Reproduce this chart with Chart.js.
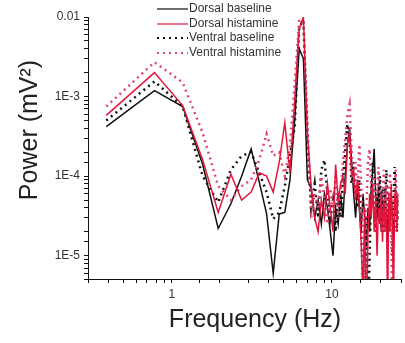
<!DOCTYPE html>
<html>
<head>
<meta charset="utf-8">
<script src="https://cdn.jsdelivr.net/npm/chart.js@4/dist/chart.umd.min.js"></script>
<style>
  html, body { margin: 0; padding: 0; background: #fff; }
  #wrap { width: 405px; height: 343px; }
</style>
</head>
<body>
<div id="wrap"><canvas id="psdChart" width="405" height="343"></canvas></div>
<script>
// Frequency bins (Hz)
const freqs = [0.39, 0.78, 1.17, 1.56, 1.95, 2.34, 2.73, 3.13, 3.52, 3.91, 4.30, 4.69, 5.08, 5.47, 5.86,
  6.25, 6.64, 7.03, 7.42, 7.81, 8.20, 8.59, 8.98, 9.38, 9.77, 10.16, 10.55, 10.94, 11.33, 11.72,
  12.11, 12.50, 12.89, 13.28, 13.67, 14.06, 14.45, 14.84, 15.23, 15.63, 16.02, 16.41, 16.80, 17.19,
  17.58, 17.97, 18.36, 18.75, 19.14, 19.53, 19.92, 20.31, 20.70, 21.09, 21.48, 21.88, 22.27, 22.66,
  23.05, 23.44, 23.83, 24.22, 24.61, 25.00, 25.39, 25.78];

// Power (mV^2)
const dorsalBaseline = [4.2e-4, 1.19e-3, 7.5e-4, 1.4e-4, 2.2e-5, 4.5e-5, 1e-4, 2.2e-4, 8.4e-5, 3.35e-5, 6e-6,
  3.35e-5, 3.5e-5, 9e-5, 5.2e-4, 4e-3, 3e-3, 9e-5,
  7e-5, 3e-5, 5e-5, 2.5e-5, 6e-5, 4e-5, 2e-5, 1e-5, 4e-5, 2.5e-5, 6e-5, 3e-5, 1e-4, 2.5e-4, 4e-4, 1.5e-4,
  6e-5, 3e-5, 8e-5, 4e-5, 2e-5, 6e-5, 3e-5, 1.2e-5, 4e-5, 2e-5, 7e-5, 1.2e-4, 2.2e-4, 6e-5, 3e-5, 8e-5,
  4e-5, 2e-5, 5e-5, 3e-5, 7e-5, 3.5e-5, 1.5e-5, 5e-5, 2.5e-5, 6e-5, 3e-5, 1.5e-5, 4e-5, 6e-5, 3e-5, 5e-5];
const dorsalHistamine = [5.8e-4, 2.0e-3, 7.7e-4, 1.6e-4, 3.5e-5, 1.06e-4, 5e-5, 6.3e-5, 1.1e-4, 1e-4, 6.3e-5,
  1.5e-4, 4.7e-4, 1.1e-4, 9e-4, 7e-3, 1e-2, 3.5e-4,
  7.5e-5, 3e-5, 2e-5, 5e-5, 3e-5, 8e-5, 4e-5, 2e-5, 1.4e-4, 5e-5, 8e-5, 1e-4, 6e-5, 2.5e-4, 3.5e-4, 1e-4,
  1.2e-4, 5e-5, 9e-5, 4e-5, 1.5e-5, 3e-6, 4e-5, 1e-6, 2e-5, 6e-5, 3e-5, 8e-5, 2e-5, 5e-5, 1e-5, 4e-5,
  2.5e-5, 6e-5, 1.5e-5, 5e-5, 2e-5, 4e-5, 2e-6, 6e-5, 2e-5, 8e-5, 3e-5, 2e-6, 5e-5, 7e-5, 2e-5, 6e-5];
const ventralBaseline = [5e-4, 1.55e-3, 7.5e-4, 1e-4, 4.7e-5, 1.2e-4, 1.8e-4, 2e-4, 1.1e-4, 6.3e-5, 2.9e-5,
  3.5e-5, 7.5e-5, 1.8e-4, 4.2e-4, 7.5e-3, 9e-3, 2.9e-4,
  4e-5, 8e-5, 3e-5, 1.2e-4, 1.6e-4, 6e-5, 3e-5, 5e-5, 2e-5, 6e-5, 3e-5, 9e-5, 2e-4, 4.5e-4, 3e-4, 8e-5,
  1.5e-4, 6e-5, 4e-5, 9e-5, 2e-5, 5e-6, 2e-6, 3e-5, 1e-6, 1e-5, 6e-5, 1.5e-4, 8e-5, 2e-5, 6e-5, 3e-5,
  1e-4, 4e-5, 7e-5, 2e-5, 5e-5, 1.2e-4, 4e-5, 2e-5, 6e-5, 3e-5, 1e-5, 5e-5, 1.3e-4, 5e-5, 2e-5, 4e-5];
const ventralHistamine = [7.5e-4, 2.7e-3, 1.5e-3, 3.5e-4, 7.5e-5, 5e-5, 7.5e-5, 9e-5, 1.6e-4, 3.4e-4, 1.8e-4,
  2e-4, 1e-4, 2.4e-4, 1.5e-3, 9.5e-3, 8e-3, 5e-4,
  3e-5, 6e-5, 4e-5, 1e-4, 5e-5, 2.5e-5, 7e-5, 4e-5, 1e-4, 3e-5, 6e-5, 1.5e-4, 3e-4, 6e-4, 8e-4, 2e-4,
  8e-5, 1.5e-4, 6e-5, 2.5e-4, 8e-5, 2e-5, 1e-6, 4e-5, 1.5e-4, 2.2e-4, 8e-5, 4e-5, 1e-4, 3e-5, 7e-5, 1.3e-4,
  5e-5, 2e-5, 6e-5, 1.2e-4, 4e-5, 8e-5, 3e-5, 6e-5, 1.1e-4, 4e-5, 1e-6, 2e-5, 6e-5, 1.2e-4, 5e-5, 3e-5];

const seriesNames = ['Dorsal baseline', 'Dorsal histamine', 'Ventral baseline', 'Ventral histamine'];

const FONT = '"Liberation Sans", Arial, sans-serif';
const RED = '#e2163c';
const PINK = '#e0457a';

const toXY = arr => arr.map((v, i) => ({ x: freqs[i], y: v }));

function isDecade(v) {
  const l = Math.log10(v);
  return Math.abs(l - Math.round(l)) < 1e-6;
}

// legend + axis titles drawn by hand so they sit where the original has them
const decor = {
  id: 'decor',
  afterDraw(chart) {
    const ctx = chart.ctx;
    ctx.save();
    // legend
    const ys = [9, 24, 38, 53];
    chart.data.datasets.forEach((ds, i) => {
      const y = ys[i];
      ctx.strokeStyle = ds.borderColor;
      ctx.lineWidth = ds.borderDash.length ? 2.2 : 1.2;
      ctx.setLineDash(ds.borderDash);
      ctx.beginPath();
      ctx.moveTo(157, y);
      ctx.lineTo(188, y);
      ctx.stroke();
      ctx.setLineDash([]);
      ctx.fillStyle = '#333';
      ctx.font = '12px ' + FONT;
      ctx.textBaseline = 'middle';
      ctx.textAlign = 'left';
      ctx.fillText(ds.label, 189, y);
    });
    // axis titles
    ctx.fillStyle = '#222';
    ctx.font = '25px ' + FONT;
    ctx.textAlign = 'center';
    ctx.textBaseline = 'middle';
    ctx.fillText('Frequency (Hz)', 255, 320);
    ctx.translate(30, 130);
    ctx.rotate(-Math.PI / 2);
    ctx.fillText('Power (mV\u00b2)', 0, 0);
    ctx.restore();
  }
};

new Chart(document.getElementById('psdChart'), {
  type: 'line',
  data: {
    datasets: [
      { label: seriesNames[0], data: toXY(dorsalBaseline), borderColor: '#111', borderWidth: 1.5, borderDash: [], order: 2 },
      { label: seriesNames[1], data: toXY(dorsalHistamine), borderColor: RED, borderWidth: 1.5, borderDash: [], order: 0 },
      { label: seriesNames[2], data: toXY(ventralBaseline), borderColor: '#111', borderWidth: 2.5, borderDash: [2, 4], order: 3 },
      { label: seriesNames[3], data: toXY(ventralHistamine), borderColor: PINK, borderWidth: 2.5, borderDash: [2, 4], order: 1 }
    ]
  },
  options: {
    responsive: false,
    animation: false,
    layout: { padding: { top: 17, right: 4, left: 0, bottom: 0 } },
    elements: { point: { radius: 0 }, line: { tension: 0 } },
    plugins: { legend: { display: false }, tooltip: { enabled: false } },
    scales: {
      x: {
        type: 'logarithmic',
        min: 0.3,
        max: 27,
        afterFit: s => { s.height = 64; },
        border: { display: true, color: '#111', width: 1 },
        grid: { drawOnChartArea: false, drawTicks: true, tickLength: 4, color: '#111' },
        ticks: {
          padding: 4,
          color: '#333',
          font: { family: FONT, size: 12 },
          maxRotation: 0,
          autoSkip: false,
          callback: v => isDecade(v) ? String(Math.round(v)) : ''
        }
      },
      y: {
        type: 'logarithmic',
        min: 5.1e-6,
        max: 0.01,
        afterFit: s => { s.width = 88; },
        border: { display: true, color: '#111', width: 1 },
        grid: { drawOnChartArea: false, drawTicks: true, tickLength: 4, color: '#111' },
        ticks: {
          padding: 4,
          color: '#333',
          font: { family: FONT, size: 12 },
          autoSkip: false,
          callback: v => {
            if (!isDecade(v)) return '';
            const e = Math.round(Math.log10(v));
            return e === -2 ? '0.01' : '1E' + e;
          }
        }
      }
    }
  },
  plugins: [decor]
});
</script>
</body>
</html>
